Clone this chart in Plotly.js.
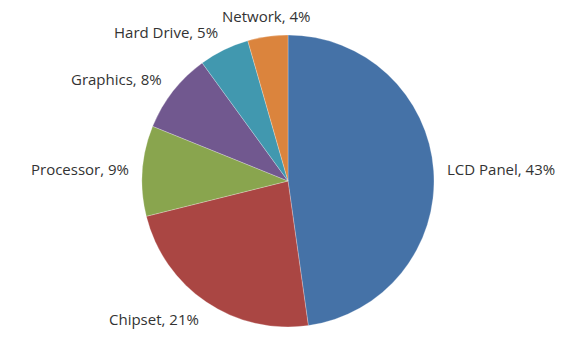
<!DOCTYPE html>
<html>
<head>
<meta charset="utf-8">
<script src="https://cdn.plot.ly/plotly-3.0.1.min.js"></script>
<style>html,body{margin:0;padding:0;background:#fff;}#chart{width:581px;height:343px;}</style>
</head>
<body>
<div id="chart"></div>
<script>
var categories = ["LCD Panel", "Chipset", "Processor", "Graphics", "Hard Drive", "Network"];
var values = [43, 21, 9, 8, 5, 4];
var colors = ["#4572A7", "#AA4643", "#89A54E", "#71588F", "#4198AF", "#DB843D"];

var W = 581, H = 343;
var margin = { l: 0, r: 5, t: 35, b: 16 };
var plotW = W - margin.l - margin.r, plotH = H - margin.t - margin.b;
var radius = Math.min(plotW, plotH) / 2;
var labelGap = 12;
var fontSize = 15;

var trace = {
  type: "pie",
  labels: categories,
  values: values,
  sort: false,
  direction: "clockwise",
  rotation: 0,
  marker: { colors: colors, line: { color: "rgba(255,255,255,0.5)", width: 0.5 } },
  textinfo: "none",
  hoverinfo: "label+value",
  showlegend: false
};

// Data labels placed just outside each slice, along its bisector (derived from the values)
var total = values.reduce(function (a, b) { return a + b; }, 0);
var annotations = [];
var cum = 0;
for (var i = 0; i < values.length; i++) {
  var mid = (cum + values[i] / 2) / total * 2 * Math.PI;
  cum += values[i];
  var s = Math.sin(mid), c = Math.cos(mid);
  var R = radius + labelGap;
  annotations.push({
    xref: "paper", yref: "paper", x: 0.5, y: 0.5,
    xshift: R * s,
    yshift: R * c + c * fontSize * 0.55,
    text: categories[i] + ", " + values[i] + "%",
    showarrow: false,
    xanchor: Math.abs(s) < 0.3 ? "center" : (s > 0 ? "left" : "right"),
    yanchor: "middle",
    font: { family: "Open Sans, sans-serif", size: fontSize, color: "#333333" },
    borderpad: 0
  });
}

var layout = {
  width: W,
  height: H,
  margin: margin,
  paper_bgcolor: "#ffffff",
  showlegend: false,
  annotations: annotations
};

Plotly.newPlot("chart", [trace], layout, { displayModeBar: false, staticPlot: true });
</script>
</body>
</html>
